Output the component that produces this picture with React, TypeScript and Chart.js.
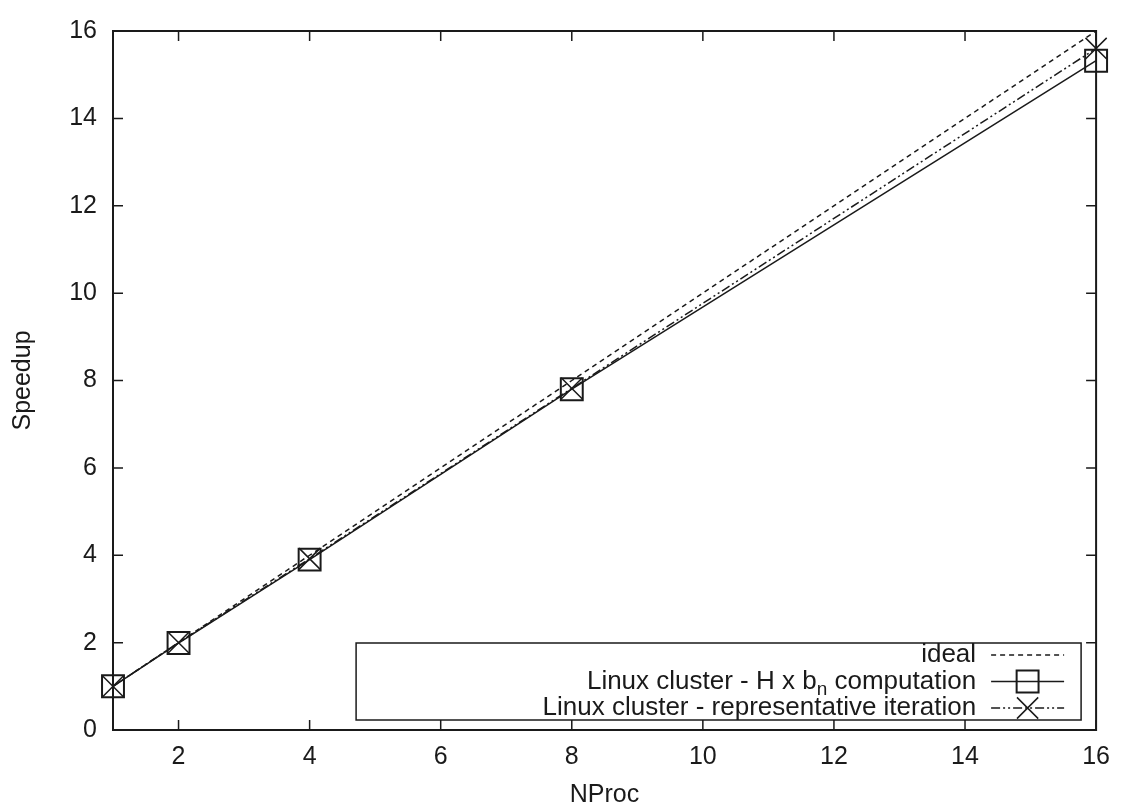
import React, { useEffect, useRef } from "react";
import { Chart, registerables } from "chart.js";

Chart.register(...registerables);

// Processor counts of the runs
const nproc = [1, 2, 4, 8, 16];
// Linear (perfect) speedup
const idealSpeedup = [1, 2, 4, 8, 16];
// Measured speedups on the Linux cluster
const hxbSpeedup = [1, 1.99, 3.9, 7.8, 15.32];
const iterationSpeedup = [1, 2.0, 3.92, 7.82, 15.6];

const xTickValues = [2, 4, 6, 8, 10, 12, 14, 16];
const yTickValues = [0, 2, 4, 6, 8, 10, 12, 14, 16];

const seriesLabels = [
  "ideal",
  "Linux cluster - H x b_n computation",
  "Linux cluster - representative iteration",
];

const FONT = '"Liberation Sans", Arial, Helvetica, sans-serif';
const FONT_SIZE = 25;
const KEY_FONT_SIZE = 26;
const INK = "#1a1a1a";
const TICK_LEN = 10;

const toPoints = (ys: number[]) => nproc.map((x, i) => ({ x, y: ys[i] }));

// Border box with inward tick marks on all four sides
const framePlugin = {
  id: "gnuplotFrame",
  beforeDatasetsDraw(chart: any) {
    const { ctx, chartArea: a, scales } = chart;
    ctx.save();
    ctx.strokeStyle = INK;
    ctx.lineWidth = 1.5;
    ctx.beginPath();
    for (const v of xTickValues) {
      const px = scales.x.getPixelForValue(v);
      ctx.moveTo(px, a.bottom);
      ctx.lineTo(px, a.bottom - TICK_LEN);
      ctx.moveTo(px, a.top);
      ctx.lineTo(px, a.top + TICK_LEN);
    }
    for (const v of yTickValues) {
      const py = scales.y.getPixelForValue(v);
      ctx.moveTo(a.left, py);
      ctx.lineTo(a.left + TICK_LEN, py);
      ctx.moveTo(a.right, py);
      ctx.lineTo(a.right - TICK_LEN, py);
    }
    ctx.stroke();
    ctx.lineWidth = 2;
    ctx.strokeRect(a.left, a.top, a.right - a.left, a.bottom - a.top);
    ctx.restore();
  },
};

// Draws text right-aligned at `right`; "_x" renders x as a subscript
function drawKeyText(ctx: CanvasRenderingContext2D, text: string, right: number, y: number) {
  const parts = text.split(/_(\w)/);
  const mainFont = `${KEY_FONT_SIZE}px ${FONT}`;
  const subFont = `${Math.round(KEY_FONT_SIZE * 0.72)}px ${FONT}`;
  const widths = parts.map((p, i) => {
    ctx.font = i % 2 ? subFont : mainFont;
    return ctx.measureText(p).width;
  });
  let x = right - widths.reduce((s, w) => s + w, 0);
  ctx.textAlign = "left";
  ctx.textBaseline = "middle";
  parts.forEach((p, i) => {
    ctx.font = i % 2 ? subFont : mainFont;
    ctx.fillText(p, x, i % 2 ? y + 8 : y);
    x += widths[i];
  });
}

// Boxed key in the lower right corner, text left of the line sample
const keyPlugin = {
  id: "gnuplotKey",
  afterDraw(chart: any) {
    const { ctx, chartArea: a } = chart;
    const datasets = chart.data.datasets;
    const rowH = 26.5;
    const boxRight = a.right - 15;
    const boxBottom = a.bottom - 10;
    const boxH = rowH * (datasets.length - 1) + 24;
    const boxTop = boxBottom - boxH;
    const boxLeft = boxRight - 725;
    const textRight = boxRight - 105;
    const sampleL = textRight + 15;
    const sampleR = textRight + 88;

    ctx.save();
    ctx.strokeStyle = INK;
    ctx.lineWidth = 1.5;
    ctx.strokeRect(boxLeft, boxTop, boxRight - boxLeft, boxH);

    datasets.forEach((ds: any, i: number) => {
      const y = boxTop + 12 + i * rowH;
      ctx.fillStyle = INK;
      drawKeyText(ctx, ds.label, textRight, y);

      ctx.strokeStyle = ds.borderColor;
      ctx.lineWidth = ds.borderWidth;
      ctx.setLineDash(ds.borderDash || []);
      ctx.beginPath();
      ctx.moveTo(sampleL, y);
      ctx.lineTo(sampleR, y);
      ctx.stroke();
      ctx.setLineDash([]);

      const r = ds.pointRadius || 0;
      if (r > 0) {
        const cx = (sampleL + sampleR) / 2;
        ctx.lineWidth = ds.pointBorderWidth;
        ctx.beginPath();
        const h = Math.SQRT1_2 * r;
        if (ds.pointStyle === "rect") {
          ctx.rect(cx - h, y - h, 2 * h, 2 * h);
        } else {
          ctx.moveTo(cx - h, y - h);
          ctx.lineTo(cx + h, y + h);
          ctx.moveTo(cx - h, y + h);
          ctx.lineTo(cx + h, y - h);
        }
        ctx.stroke();
      }
    });
    ctx.restore();
  },
};

export default function App() {
  const canvasRef = useRef<HTMLCanvasElement | null>(null);

  useEffect(() => {
    if (!canvasRef.current) return;
    const font = { family: FONT, size: FONT_SIZE };
    const chart = new Chart(canvasRef.current, {
      type: "line",
      data: {
        datasets: [
          {
            label: seriesLabels[0],
            data: toPoints(idealSpeedup),
            borderColor: INK,
            borderWidth: 1.5,
            borderDash: [5, 4],
            pointRadius: 0,
            clip: false as any,
          },
          {
            label: seriesLabels[1],
            data: toPoints(hxbSpeedup),
            borderColor: INK,
            borderWidth: 1.5,
            pointStyle: "rect",
            pointRadius: 15.5,
            pointBorderWidth: 2,
            pointBorderColor: INK,
            pointBackgroundColor: "rgba(0,0,0,0)",
            clip: false as any,
          },
          {
            label: seriesLabels[2],
            data: toPoints(iterationSpeedup),
            borderColor: INK,
            borderWidth: 1.5,
            borderDash: [9, 3, 2, 3, 2, 3],
            pointStyle: "crossRot",
            pointRadius: 15,
            pointBorderWidth: 1.5,
            pointBorderColor: INK,
            pointBackgroundColor: "rgba(0,0,0,0)",
            clip: false as any,
          },
        ],
      },
      options: {
        responsive: false,
        animation: false,
        devicePixelRatio: 1,
        layout: { padding: { left: 0, top: 26, right: 21, bottom: 0 } },
        plugins: { legend: { display: false }, tooltip: { enabled: false } },
        elements: { line: { tension: 0 } },
        scales: {
          x: {
            type: "linear",
            min: 1,
            max: 16,
            grid: { display: false, drawTicks: false },
            border: { display: false },
            afterBuildTicks: (s: any) => {
              s.ticks = xTickValues.map((value) => ({ value }));
            },
            afterFit: (s: any) => {
              s.height = 80;
            },
            ticks: { font, color: INK, padding: 12, maxRotation: 0, autoSkip: false },
            title: { display: true, text: "NProc", font, color: INK, padding: { top: 0, bottom: 0 } },
          },
          y: {
            type: "linear",
            min: 0,
            max: 16,
            grid: { display: false, drawTicks: false },
            border: { display: false },
            afterBuildTicks: (s: any) => {
              s.ticks = yTickValues.map((value) => ({ value }));
            },
            afterFit: (s: any) => {
              s.width = 113;
            },
            ticks: { font, color: INK, padding: 16, autoSkip: false },
            title: { display: true, text: "Speedup", font, color: INK, padding: { top: 8, bottom: 0 } },
          },
        },
      },
      plugins: [framePlugin, keyPlugin],
    });
    return () => chart.destroy();
  }, []);

  return (
    <div style={{ position: "absolute", left: 0, top: 0, width: 1122, height: 810, background: "#fff" }}>
      <canvas ref={canvasRef} width={1122} height={810} />
    </div>
  );
}
